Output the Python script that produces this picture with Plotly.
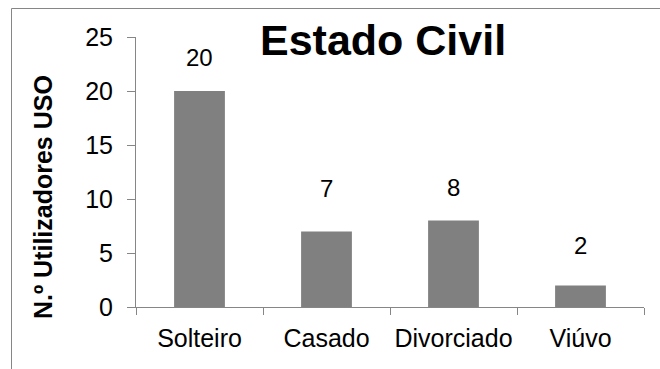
import plotly.graph_objects as go

categories = ["Solteiro", "Casado", "Divorciado", "Viúvo"]
values = [20, 7, 8, 2]
label_shift = [34, 43, 33, 40]

L, R, T, B = 136, 16, 37, 62
W, H = 660, 369
pw, ph = W - L - R, H - T - B

fig = go.Figure(go.Bar(x=categories, y=values, marker=dict(color="#808080", line=dict(width=0)),
                       width=0.4))

for c, v, s in zip(categories, values, label_shift):
    fig.add_annotation(x=c, y=v, text=str(v), showarrow=False, yshift=s,
                       font=dict(family="Liberation Sans, Arial", size=24, color="#000"))

def px_x(x):
    return (x - L) / pw

def px_y(y):
    return 1 - (y - T) / ph

fig.add_annotation(xref="paper", yref="paper", x=px_x(383), y=px_y(40), text="<b>Estado Civil</b>",
                   showarrow=False, xanchor="center", yanchor="middle",
                   font=dict(family="Liberation Sans, Arial", size=43, color="#000"))
fig.add_annotation(xref="paper", yref="paper", x=px_x(43), y=px_y(197), text="<b>N.º Utilizadores USO</b>",
                   showarrow=False, xanchor="center", yanchor="middle", textangle=-90,
                   font=dict(family="Liberation Sans, Arial", size=25, color="#000"))

fig.add_shape(type="line", xref="paper", yref="paper", x0=px_x(11.5), x1=px_x(700), y0=px_y(8.5), y1=px_y(8.5),
              line=dict(color="#868686", width=1))
fig.add_shape(type="line", xref="paper", yref="paper", x0=px_x(11.5), x1=px_x(11.5), y0=px_y(8.5), y1=px_y(400),
              line=dict(color="#868686", width=1))

fig.update_layout(
    width=W, height=H, margin=dict(l=L, r=R, t=T, b=B),
    paper_bgcolor="white", plot_bgcolor="white", showlegend=False,
    font=dict(family="Liberation Sans, Arial", size=25, color="#000"),
    xaxis=dict(showline=True, linecolor="#868686", linewidth=1, ticks="outside", tickson="boundaries",
               ticklen=7, tickcolor="#868686", showgrid=False, tickfont=dict(size=25),
               ticklabelstandoff=9, tickangle=0, automargin=False),
    yaxis=dict(range=[0, 25], dtick=5, showline=True, linecolor="#868686", linewidth=1, ticks="outside",
               ticklen=8, tickcolor="#868686", showgrid=False, zeroline=False, tickfont=dict(size=25),
               ticklabelstandoff=9, automargin=False),
)
fig.write_html("out.html")
